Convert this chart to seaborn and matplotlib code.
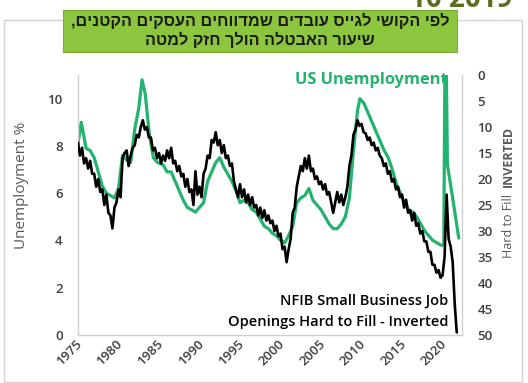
import numpy as np
import pandas as pd
import matplotlib
matplotlib.use("Agg")
import matplotlib.pyplot as plt
from matplotlib.patches import Rectangle
import matplotlib.transforms as mtransforms
import seaborn as sns

# US unemployment rate (%), by decimal year
unemp_years = [1975.0, 1975.4, 1976.0, 1976.5, 1977.0, 1977.5, 1978.0, 1978.5, 1979.0, 1979.5,
               1980.0, 1980.5, 1981.0, 1981.5, 1982.0, 1982.5, 1982.9, 1983.3, 1983.8, 1984.3,
               1984.8, 1985.5, 1986.0, 1986.5, 1987.0, 1987.5, 1988.0, 1988.5, 1989.0, 1989.5,
               1990.0, 1990.5, 1991.0, 1991.5, 1992.0, 1992.5, 1993.0, 1993.5, 1994.0, 1994.5,
               1995.0, 1995.5, 1996.0, 1996.5, 1997.0, 1997.5, 1998.0, 1998.5, 1999.0, 1999.5,
               2000.0, 2000.5, 2001.0, 2001.5, 2002.0, 2002.5, 2003.0, 2003.5, 2004.0, 2004.5,
               2005.0, 2005.5, 2006.0, 2006.5, 2007.0, 2007.5, 2008.0, 2008.5, 2009.0, 2009.5,
               2009.8, 2010.3, 2010.8, 2011.3, 2011.8, 2012.3, 2012.8, 2013.3, 2013.8, 2014.3,
               2014.8, 2015.3, 2015.8, 2016.3, 2016.8, 2017.3, 2017.8, 2018.3, 2018.8, 2019.3,
               2019.8, 2020.15, 2020.35, 2020.6, 2021.2, 2021.6, 2022.0]
unemp_rate = [8.1, 9.0, 7.9, 7.8, 7.5, 6.9, 6.3, 6.0, 5.9, 5.8,
              6.2, 7.6, 7.4, 7.3, 8.7, 9.6, 10.8, 10.2, 8.5, 7.5,
              7.3, 7.2, 6.9, 6.9, 6.5, 6.1, 5.7, 5.4, 5.3, 5.2,
              5.4, 5.6, 6.5, 6.9, 7.3, 7.5, 7.1, 6.8, 6.5, 6.1,
              5.6, 5.7, 5.6, 5.3, 5.2, 4.9, 4.6, 4.5, 4.3, 4.2,
              4.0, 3.9, 4.2, 4.6, 5.6, 5.8, 5.9, 6.2, 5.7, 5.5,
              5.3, 5.0, 4.7, 4.5, 4.5, 4.7, 5.0, 5.8, 7.8, 9.5,
              10.0, 9.8, 9.4, 9.0, 8.6, 8.2, 7.8, 7.5, 7.0, 6.4,
              6.0, 5.6, 5.3, 5.2, 5.0, 4.7, 4.4, 4.2, 4.0, 3.9,
              3.8, 3.8, 14.7, 7.2, 5.9, 5.0, 4.1]

# NFIB small business job openings hard to fill (%), quarterly 1975-2021
nfib_years = np.arange(1975.0, 2022.0, 0.25)
nfib_hard_to_fill = [
    13, 15.5, 14, 17,      16, 18, 16.5, 19,      19, 21.5, 20, 22.5,    22, 25, 23, 26.5,
    27, 29.5, 25.5, 24.5,  22, 23.5, 16, 15,      14.5, 17.5, 15.5, 14,  13.5, 11.5, 12, 10,
    8.7, 10.5, 10, 12,     12, 14.5, 14, 16,      15, 17, 15.5, 16.5,    14.5, 16, 14, 17,
    16.5, 18.5, 17.5, 19.5, 19, 21.5, 20, 22.5,   22, 25, 18.5, 23,      21.5, 23.5, 19, 18,
    15.5, 16, 12.5, 13,    11, 13.5, 12.5, 15,    13.5, 16, 15.5, 17.5,  17, 20.5, 22, 23.5,
    21, 23.5, 22, 24.5,    23, 25, 23.5, 25.5,    25, 27, 25.5, 27.5,    26, 28, 27, 28.5,
    28, 30, 29, 31,        30.5, 33.5, 33, 36,    33.5, 31.5, 26.5, 25.5, 21.5, 19.5, 17.5, 18.5,
    16, 18, 15.5, 18.5,    18, 20, 19.5, 21,      20.5, 22, 21, 23,      22.5, 24.5, 26.5, 24.5,
    22.5, 24.5, 23, 25,    23.5, 21.5, 17.5, 15.5, 11.5, 10.5, 8.7, 9.8,  9.4, 11, 11.2, 12.5,
    12, 13.5, 13, 14.5,    14, 15.5, 16, 17.5,    17, 19, 18.5, 20.5,    20, 22, 21.5, 23.5,
    23, 25.5, 24, 26.5,    26, 28, 26.5, 29,      28.5, 30.5, 30, 32,    32, 34, 34, 36.5,
    36.5, 38, 37.5, 39,    38.5, 35, 23, 31.5,    33, 36, 44, 49.5,
]

year_ticks = [1975, 1980, 1985, 1990, 1995, 2000, 2005, 2010, 2015, 2020]
left_ticks = [0, 2, 4, 6, 8, 10]
right_ticks = [0, 5, 10, 15, 20, 25, 30, 35, 40, 45, 50]

unemp_df = pd.DataFrame({"year": unemp_years, "rate": unemp_rate})
nfib_df = pd.DataFrame({"year": nfib_years, "hard": nfib_hard_to_fill})

sns.set_style("white")
plt.rcParams["font.family"] = ["Open Sans", "DejaVu Sans"]

W, H = 528, 383
fig = plt.figure(figsize=(W / 100, H / 100), dpi=100)
fig.patch.set_facecolor("white")

def fx(px):
    return px / W

def fy(py):
    return 1 - py / H

GREEN = "#22b36e"
AXIS_GREY = "#d0d0d0"
TICK_COL = "#3f3f3f"
TICK_SIZE = 9.5

# outer chart frame
fig.patches.append(Rectangle((fx(4), fy(382)), fx(518), (382 - 20) / H,
                             transform=fig.transFigure, fill=False,
                             edgecolor="#d4d4d4", linewidth=1.0))

ax = fig.add_axes([fx(78), fy(335), (462 - 78) / W, (335 - 75) / H])
sns.lineplot(data=unemp_df, x="year", y="rate", ax=ax, color=GREEN, linewidth=2.3)

ax2 = ax.twinx()
sns.lineplot(data=nfib_df, x="year", y="hard", ax=ax2, color="black", linewidth=1.9)
ax2.xaxis.set_visible(False)

ax.set_xlim(1975, 2022.4)
ax.set_ylim(0, 11)
ax.set_yticks(left_ticks)
ax.set_yticklabels([str(t) for t in left_ticks], fontsize=TICK_SIZE, color=TICK_COL,
                   fontweight="semibold")
ax.set_xticks(year_ticks)
ax.set_xticklabels([])
ax.tick_params(axis="x", length=3, color=AXIS_GREY, pad=3)
ax.tick_params(axis="y", length=0, pad=11)
ax.set_xlabel("")
ax.set_ylabel("")
for s in ["top", "right"]:
    ax.spines[s].set_visible(False)
for s in ["left", "bottom"]:
    ax.spines[s].set_color(AXIS_GREY)
    ax.spines[s].set_linewidth(1.0)

# slanted year labels under the x axis
label_offset = mtransforms.ScaledTranslation(2 / 100, -7 / 100, fig.dpi_scale_trans)
for yr in year_ticks:
    ax.text(yr, 0, str(yr), transform=ax.get_xaxis_transform() + label_offset,
            rotation=45, rotation_mode="anchor", ha="right", va="center",
            fontsize=TICK_SIZE, color=TICK_COL, fontweight="semibold")

ax2.set_ylim(50, 0)
ax2.set_yticks(right_ticks)
ax2.set_yticklabels([str(t) for t in right_ticks], fontsize=TICK_SIZE, color=TICK_COL,
                    fontweight="semibold")
ax2.tick_params(axis="y", length=0, pad=11)
ax2.set_ylabel("")
for s in ["top", "left", "bottom"]:
    ax2.spines[s].set_visible(False)
ax2.spines["right"].set_color(AXIS_GREY)
ax2.spines["right"].set_linewidth(1.0)

# axis titles
fig.text(fx(22), fy(185), "Unemployment %", rotation=90, ha="center", va="center",
         fontsize=11, color="#595959")
fig.text(fx(508), fy(258), "Hard to Fill", rotation=90, ha="center", va="bottom",
         fontsize=9, color="#595959")
fig.text(fx(508), fy(187), "INVERTED", rotation=90, ha="center", va="bottom",
         fontsize=9, color="#595959", fontweight="bold")

# series labels
fig.text(fx(448), fy(80), "US Unemployment", ha="right", va="center",
         fontsize=11.8, color=GREEN, fontweight="bold")
fig.text(fx(448), fy(301), "NFIB Small Business Job", ha="right", va="center",
         fontsize=10.5, color="black", fontweight="semibold")
fig.text(fx(448), fy(322), "Openings Hard to Fill - Inverted", ha="right", va="center",
         fontsize=10.5, color="black", fontweight="semibold")

# Hebrew headline box (text reversed for right-to-left display)
fig.patches.append(Rectangle((fx(63), fy(52)), (457 - 63) / W, (52 - 10) / H,
                             transform=fig.transFigure, facecolor="#8cc63e",
                             edgecolor="#7aab35", linewidth=0.8))
line1 = "לפי הקושי לגייס עובדים שמדווחים העסקים הקטנים,"
line2 = "שיעור האבטלה הולך חזק למטה"
heb_font = ["Liberation Sans", "DejaVu Sans"]
fig.text(fx(260), fy(21), line1[::-1], ha="center", va="center", fontsize=11.7,
         fontweight="bold", color="#1a1a1a", family=heb_font)
fig.text(fx(260), fy(40), line2[::-1], ha="center", va="center", fontsize=11.7,
         fontweight="bold", color="#1a1a1a", family=heb_font)

# date caption running off the top edge
fig.text(fx(410), fy(7), "10 2019", ha="left", va="baseline", fontsize=20,
         fontweight="bold", color="#5d6e1e")

fig.savefig("out.png", dpi=100)
